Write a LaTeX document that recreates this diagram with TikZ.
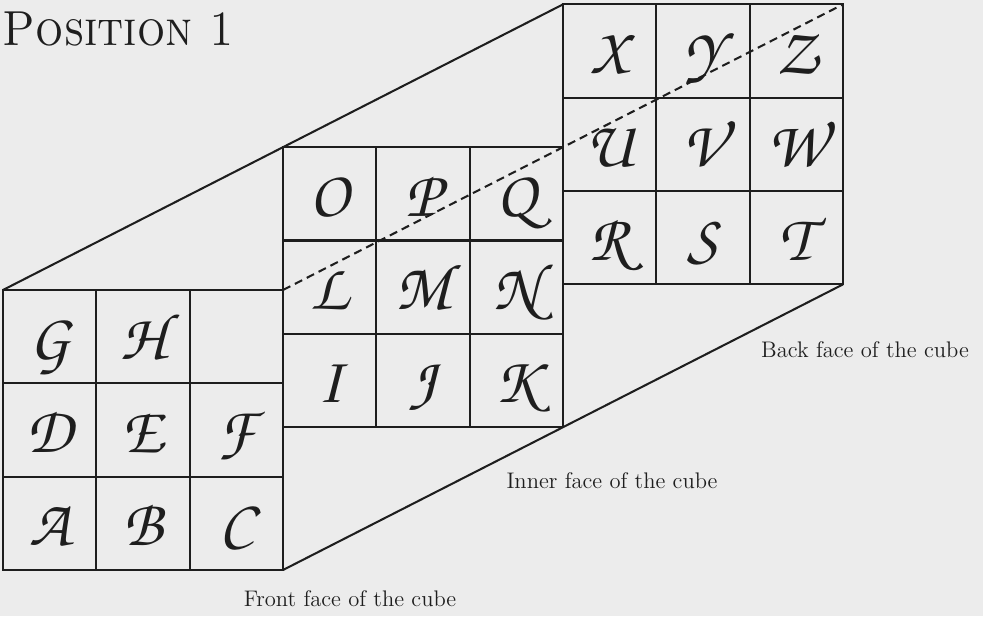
\documentclass[tikz,border=0pt]{standalone}
\usepackage[T1,TU]{fontenc}
\usepackage{xcolor}
\usepackage{tikz}
\usetikzlibrary{calc}

\definecolor{paper}{RGB}{236,236,236}
\definecolor{ink}{RGB}{30,30,30}
\newcommand{\chancery}{\fontencoding{T1}\fontfamily{pzc}\fontseries{mb}\fontshape{it}\fontsize{32}{32}\selectfont}

\begin{document}
\begin{tikzpicture}[x=1.6cm, y=1.6cm, line width=1pt,
  letter/.style={font=\chancery, text=ink, inner sep=0pt, anchor=base},
  facelabel/.style={font=\fontsize{11}{13}\selectfont, text=ink, anchor=base},
  hidden/.style={dash pattern=on 4pt off 2.5pt}]
\fill[paper] (0,0) rectangle (10.532,6.6);
\useasboundingbox (0,0) rectangle (10.532,6.6);

% lower left corners of the three faces
\coordinate (front) at (0.032,0.493);
\coordinate (inner) at (3.032,2.023);
\coordinate (back) at (6.032,3.553);

\foreach \g in {front,inner,back} {
  \draw[ink] (\g) rectangle ++(3,3);
  \foreach \k in {1,2} {
    \draw[ink] (\g) ++(\k,0) -- ++(0,3);
    \draw[ink] (\g) ++(0,\k) -- ++(3,0);
  }
  \path (\g) ++(0,3) coordinate (\g-nw);
  \path (\g) ++(3,3) coordinate (\g-ne);
  \path (\g) ++(3,0) coordinate (\g-se);
}

% edges of the cube
\draw[ink] (front-nw) -- (back-nw);
\draw[ink] (front-se) -- (back-se);
\draw[ink, hidden] (front-ne) -- (back-ne);

% letters
\foreach \l [count=\n from 0] in {A,B,C,D,E,F,G,H}
  \node[letter] (\l) at ($(front)+({mod(\n,3)+0.5},{int(\n/3)+0.26})$) {\l};
\foreach \l [count=\n from 0] in {I,J,K,L,M,N,O,P,Q}
  \node[letter] (\l) at ($(inner)+({mod(\n,3)+0.5},{int(\n/3)+0.26})$) {\l};
\foreach \l [count=\n from 0] in {R,S,T,U,V,W,X,Y,Z}
  \node[letter] (\l) at ($(back)+({mod(\n,3)+0.5},{int(\n/3)+0.26})$) {\l};

% captions
\node[anchor=base west, inner sep=0pt, text=ink, font=\fontsize{24}{28}\selectfont] (title) at (0.021,6.11) {\scalebox{0.9}[1]{\textsc{Position 1}}};
\node[facelabel] (frontlabel) at (3.75,0.107) {Front face of the cube};
\node[facelabel] (innerlabel) at (6.557,1.371) {Inner face of the cube};
\node[facelabel] (backlabel) at (9.268,2.775) {Back face of the cube};
\end{tikzpicture}
\end{document}
